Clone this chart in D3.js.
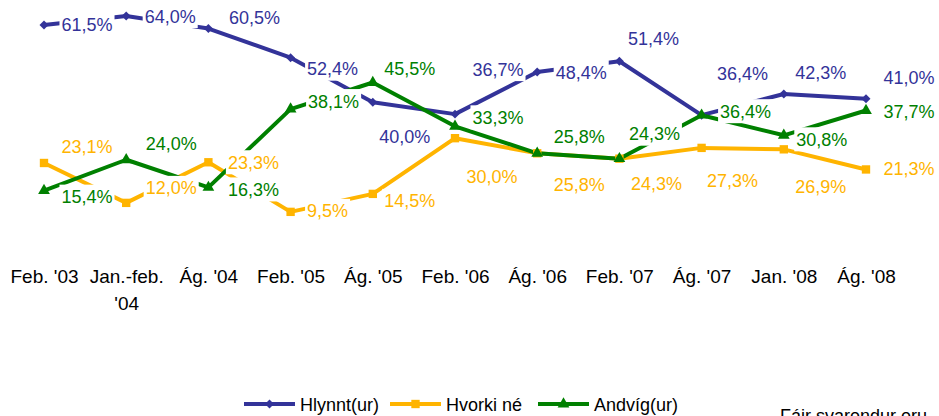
<!DOCTYPE html>
<html>
<head>
<meta charset="utf-8">
<script src="https://cdn.jsdelivr.net/npm/d3@7"></script>
<style>
  body { margin: 0; background: #fff; }
  svg { display: block; font-family: "Liberation Sans", Arial, sans-serif; }
</style>
</head>
<body>
<svg id="chart"></svg>
<script>
var width = 939;
var height = 416;

// survey rounds
var periods = ["Feb. '03", "Jan.-feb.\n'04", "Ág. '04", "Feb. '05", "Ág. '05", "Feb. '06",
               "Ág. '06", "Feb. '07", "Ág. '07", "Jan. '08", "Ág. '08"];

var seriesNames = ["Hlynnt(ur)", "Hvorki né", "Andvíg(ur)"];

var hlynnt = [61.5, 64.0, 60.5, 52.4, 40.0, 36.7, 48.4, 51.4, 36.4, 42.3, 41.0];
var hvorki = [23.1, 12.0, 23.3, 9.5, 14.5, 30.0, 25.8, 24.3, 27.3, 26.9, 21.3];
var andvig = [15.4, 24.0, 16.3, 38.1, 45.5, 33.3, 25.8, 24.3, 36.4, 30.8, 37.7];

// where each value label sits relative to its point (layout only)
var hlynntLabelPos = [[43,0],[44,0],[46,-11],[42,11],[32,34],[43,-45],[44,0],[34,-23],[41,-42],[37,-21],[43,-21]];
var hvorkiLabelPos = [[43,-16],[45,-15],[45,0],[37,-1],[37,7],[37,38],[42,31],[37,25],[31,33],[37,37],[43,-1]];
var andvigLabelPos = [[43,6],[45,-16],[45,2],[43,-8],[37,-14],[43,-9],[42,-17],[35,-25],[44,-4],[38,4],[43,1]];

var colors = ["#333399", "#ffb400", "#008000"];
var symbols = [d3.symbolSquare, d3.symbolSquare, d3.symbolTriangle];
var symbolSizes = [40, 70, 60];
var symbolRotate = [45, 0, 0];

var series = [
    { name: seriesNames[0], values: hlynnt, labelPos: hlynntLabelPos },
    { name: seriesNames[1], values: hvorki, labelPos: hvorkiLabelPos },
    { name: seriesNames[2], values: andvig, labelPos: andvigLabelPos }
];

var locale = d3.formatLocale({ decimal: ",", thousands: ".", grouping: [3], currency: ["", ""] });
var fmt = locale.format(".1f");

var svg = d3.select('#chart')
    .attr('width', width)
    .attr('height', height);

var x = d3.scalePoint()
    .domain(periods)
    .range([44, 866]);

var y = d3.scaleLinear()
    .domain([0, 64])
    .range([246, 16]);

// x axis: labels only
var xAxis = svg.append('g')
    .attr('transform', 'translate(0,264)')
    .call(d3.axisBottom(x).tickSize(0).tickPadding(0));

xAxis.select('.domain').remove();
xAxis.selectAll('text')
    .attr('font-family', '"Liberation Sans", Arial, sans-serif')
    .attr('font-size', 19)
    .attr('fill', '#000')
    .attr('dy', null)
    .attr('y', 19)
    .each(function(d) {
        var parts = d.split('\n');
        var t = d3.select(this).text(null);
        parts.forEach(function(p, i) {
            t.append('tspan')
                .attr('x', 0)
                .attr('dy', i === 0 ? 0 : 27)
                .text(p);
        });
    });

var line = d3.line()
    .x((d, i) => x(periods[i]))
    .y(d => y(d));

var lineGroup = svg.append('g');
series.forEach(function(s, k) {
    lineGroup.append('path')
        .datum(s.values)
        .attr('fill', 'none')
        .attr('stroke', colors[k])
        .attr('stroke-width', 4)
        .attr('stroke-linejoin', 'round')
        .attr('d', line);
});

var markerGroup = svg.append('g');
series.forEach(function(s, k) {
    markerGroup.selectAll('.m' + k)
        .data(s.values)
        .enter()
        .append('path')
        .classed('m' + k, true)
        .attr('fill', colors[k])
        .attr('transform', (d, i) => 'translate(' + x(periods[i]) + ',' + y(d) + ') rotate(' + symbolRotate[k] + ')')
        .attr('d', d3.symbol().type(symbols[k]).size(symbolSizes[k]));
});

// value labels with white boxes
var labelGroup = svg.append('g');
series.forEach(function(s, k) {
    s.values.forEach(function(v, i) {
        var cx = x(periods[i]) + s.labelPos[i][0];
        var cy = y(v) + s.labelPos[i][1];
        var g = labelGroup.append('g');
        var rect = g.append('rect').attr('fill', '#fff');
        var txt = g.append('text')
            .attr('x', cx)
            .attr('y', cy + 6.5)
            .attr('text-anchor', 'middle')
            .attr('font-size', 18)
            .attr('fill', colors[k])
            .text(fmt(v) + '%');
        var bb = txt.node().getBBox();
        rect.attr('x', bb.x - 2)
            .attr('y', cy - 12)
            .attr('width', bb.width + 4)
            .attr('height', 24);
    });
});

// legend
var legendX = [244, 390, 538];
var legend = svg.append('g')
    .attr('transform', 'translate(0,404)');

series.forEach(function(s, k) {
    var item = legend.append('g')
        .attr('transform', 'translate(' + legendX[k] + ',0)');
    item.append('line')
        .attr('x1', 0).attr('x2', 51)
        .attr('y1', 0).attr('y2', 0)
        .attr('stroke', colors[k])
        .attr('stroke-width', 4);
    item.append('path')
        .attr('fill', colors[k])
        .attr('transform', 'translate(25.5,0) rotate(' + symbolRotate[k] + ')')
        .attr('d', d3.symbol().type(symbols[k]).size(symbolSizes[k]));
    item.append('text')
        .attr('x', 56)
        .attr('y', 6.5)
        .attr('font-size', 18)
        .attr('fill', '#000')
        .text(s.name);
});

svg.append('text')
    .attr('x', 780)
    .attr('y', 422)
    .attr('font-size', 18)
    .attr('fill', '#000')
    .text('Fáir svarendur eru');
</script>
</body>
</html>
